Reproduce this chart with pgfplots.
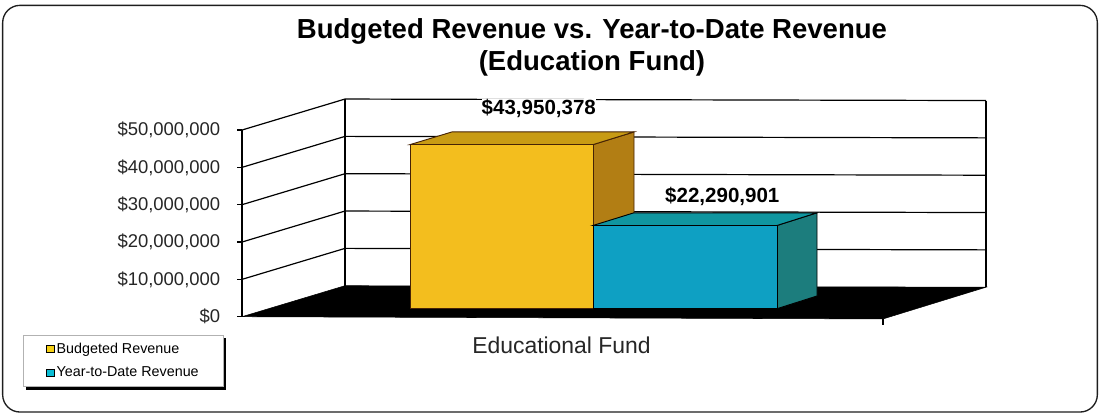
\documentclass[border=0pt]{standalone}
\usepackage{fontspec}
\setmainfont{Liberation Sans}
\usepackage{pgfplots}
\pgfplotsset{compat=1.18}
% 1 reference pixel = 0.75pt, x data are reference pixels
\definecolor{yfront}{RGB}{243,190,30}
\definecolor{ytop}{RGB}{200,155,20}
\definecolor{yside}{RGB}{178,126,20}
\definecolor{yedge}{RGB}{70,35,5}
\definecolor{tfront}{RGB}{14,160,195}
\definecolor{ttop}{RGB}{16,150,160}
\definecolor{tside}{RGB}{28,125,125}
\definecolor{boxline}{RGB}{30,30,30}
\begin{document}
\begin{tikzpicture}
\path[use as bounding box] (-181.5pt,-75.225pt) rectangle (642.75pt,237.525pt);
\draw[boxline,line width=1pt,rounded corners=13pt,fill=white] (-179.5pt,-71.5pt) rectangle (641.5pt,233.5pt);
\begin{axis}[
  scale only axis,
  width=558pt,
  height=140pt,
  xmin=242, xmax=986,
  ymin=0, ymax=50000000,
  clip=false,
  axis y line*=left,
  axis x line*=bottom,
  axis line style={draw=none},
  scaled y ticks=false,
  ytick={0,10000000,20000000,30000000,40000000,50000000},
  yticklabels={\$0,{\$10,000,000},{\$20,000,000},{\$30,000,000},{\$40,000,000},{\$50,000,000}},
  yticklabel style={font=\fontsize{13.85}{16}\selectfont,text=black!85,xshift=-9.3pt},
  ytick style={black,line width=0.8pt},
  tick align=outside,
  major tick length=3.5pt,
  xtick={561.5},
  xticklabels={Educational Fund},
  xticklabel style={font=\fontsize{17.2}{20}\selectfont,text=black!85,yshift=-8pt},
  xtick style={draw=none},
  title={Budgeted Revenue vs. Year-to-Date Revenue\\(Education Fund)},
  title style={at={(0.4704,1.219)},anchor=south,align=center,
    font=\fontsize{20.65}{24}\selectfont\bfseries},
  legend style={at={(-0.2944,-0.098)},anchor=north west,draw=black!30,fill=white,
    inner xsep=17.25pt,inner ysep=4.75pt,row sep=6.75pt,
    font=\fontsize{10.75}{13}\selectfont,
    nodes={inner xsep=1.5pt,inner ysep=1pt}},
  legend cell align=left,
]
% floor
\addplot[fill=black,draw=black,forget plot] coordinates {(242,0)(345,8300000)(986,7900000)(883,-600000)} -- cycle;
% walls and grid lines
\addplot[black,line width=0.9pt,forget plot] coordinates {(242,0)(242,50000000)};
\addplot[black,line width=0.9pt,forget plot] coordinates {(345,8300000)(345,58300000)};
\addplot[black,line width=0.9pt,forget plot] coordinates {(986,7900000)(986,57900000)};
\addplot[black,line width=0.9pt,forget plot] coordinates {(883,-600000)(883,-2200000)};
\addplot[black,line width=0.9pt,forget plot] coordinates {(242,10000000)(345,18300000)(986,17900000)};
\addplot[black,line width=0.9pt,forget plot] coordinates {(242,20000000)(345,28300000)(986,27900000)};
\addplot[black,line width=0.9pt,forget plot] coordinates {(242,30000000)(345,38300000)(986,37900000)};
\addplot[black,line width=0.9pt,forget plot] coordinates {(242,40000000)(345,48300000)(986,47900000)};
\addplot[black,line width=0.9pt,forget plot] coordinates {(242,50000000)(345,58300000)(986,57900000)};
% budgeted revenue bar
\addplot[fill=yside,draw=yedge,line width=0.7pt,yshift=6pt,forget plot] coordinates {(593,43950378)(634,47350378)(634,3400000)(593,0)} -- cycle;
\addplot[fill=ytop,draw=yedge,line width=0.7pt,yshift=6pt,forget plot] coordinates {(410,43950378)(452,47350378)(634,47350378)(593,43950378)} -- cycle;
\addplot[ybar,bar width=137.25pt,bar shift=0pt,fill=yfront,draw=yedge,line width=0.7pt,yshift=6pt,forget plot,
  point meta=explicit symbolic,
  nodes near coords,
  nodes near coords style={anchor=center,xshift=28pt,yshift=27pt,fill=white,inner sep=0pt,
    text=black,font=\fontsize{15.4}{18}\selectfont\bfseries}]
  coordinates {(501.5,43950378)[\$43,950,378]};
% year-to-date revenue bar
\addplot[fill=tside,draw=black,line width=0.7pt,yshift=6pt,forget plot] coordinates {(777,22290901)(817,25690901)(817,3400000)(777,0)} -- cycle;
\addplot[fill=ttop,draw=black,line width=0.7pt,yshift=6pt,forget plot] coordinates {(593,22290901)(634,25690901)(817,25690901)(777,22290901)} -- cycle;
\addplot[ybar,bar width=138pt,bar shift=0pt,fill=tfront,draw=black,line width=0.7pt,yshift=6pt,forget plot,
  point meta=explicit symbolic,
  nodes near coords,
  nodes near coords style={anchor=center,xshift=28pt,yshift=21.5pt,inner sep=0pt,
    text=black,font=\fontsize{15.4}{18}\selectfont\bfseries}]
  coordinates {(685,22290901)[\$22,290,901]};
% legend shadow, the legend box goes on top of it
\fill[black] (axis cs:26,-5700000) rectangle (axis cs:226,-19600000);
\addlegendimage{legend image code/.code={\draw[fill=yfront!70!yellow,draw=black,line width=0.7pt] (0pt,-2.8pt) rectangle (5.6pt,2.8pt);}}
\addlegendentry{Budgeted Revenue}
\addlegendimage{legend image code/.code={\draw[fill=tfront!70!cyan,draw=black,line width=0.7pt] (0pt,-2.8pt) rectangle (5.6pt,2.8pt);}}
\addlegendentry{Year-to-Date Revenue}
\end{axis}
\end{tikzpicture}
\end{document}
